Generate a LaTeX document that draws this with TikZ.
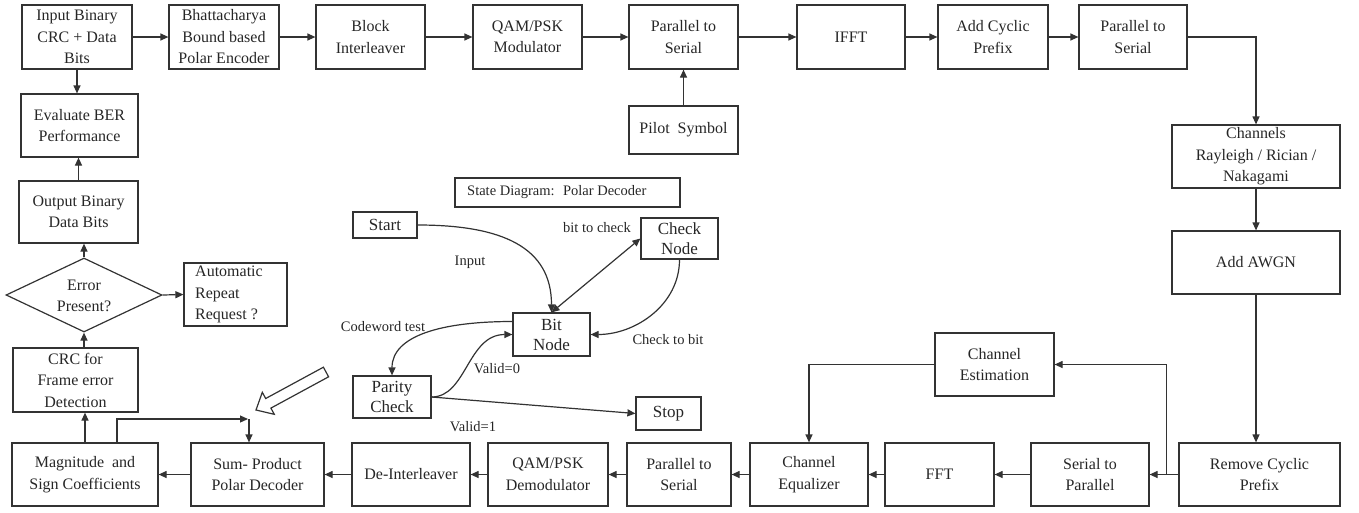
\documentclass[tikz,border=0pt]{standalone}
\usepackage{fontspec}
\setmainfont{Liberation Serif}
\newfontfamily\tnrfont{Liberation Serif}
\usetikzlibrary{arrows.meta,shapes.geometric}
\definecolor{lc}{HTML}{333333}
\definecolor{tc}{HTML}{262626}
\newcommand{\mainfs}{\tnrfont\fontsize{16}{21.5}\selectfont}
\newcommand{\lblfs}{\tnrfont\fontsize{14.5}{17}\selectfont}
\newcommand{\stfs}{\tnrfont\fontsize{17}{20}\selectfont}
\begin{document}
\begin{tikzpicture}[x=1pt,y=-1pt,
  box/.style={draw=lc, line width=1.2pt, inner sep=0pt, align=center, font=\mainfs, text=tc},
  sbox/.style={box, font=\stfs},
  arr/.style={draw=lc, line width=1.2pt, -{Triangle[length=8pt,width=7pt]}},
  darr/.style={draw=lc, line width=1.2pt, {Triangle[length=8pt,width=7pt]}-{Triangle[length=8pt,width=7pt]}},
  lbl/.style={font=\lblfs, text=tc, inner sep=0pt},
  txt/.style={font=\mainfs, text=tc, inner sep=0pt, align=center}]
\useasboundingbox (0,0) rectangle (1359,512);

% top row
\node[box,minimum width=110pt,minimum height=64pt] (inp) at (77,37) {Input Binary\\CRC + Data\\Bits};
\node[box,minimum width=110pt,minimum height=64pt] (bhat) at (224,37) {Bhattacharya\\Bound based\\Polar Encoder};
\node[box,minimum width=109pt,minimum height=64pt] (blk) at (370.5,37) {Block\\Interleaver};
\node[box,minimum width=109pt,minimum height=64pt] (qam) at (527.5,37) {QAM/PSK\\Modulator};
\node[box,minimum width=109pt,minimum height=64pt] (p2s) at (683.5,37) {Parallel to\\Serial};
\node[box,minimum width=108pt,minimum height=64pt] (ifft) at (851,37) {IFFT};
\node[box,minimum width=110pt,minimum height=64pt] (acp) at (993,37) {Add Cyclic\\Prefix};
\node[box,minimum width=108pt,minimum height=64pt] (p2s2) at (1133,37) {Parallel to\\Serial};
\node[box,minimum width=109pt,minimum height=48pt] (pilot) at (683.5,130) {Pilot~ Symbol};

% right column
\node[box,minimum width=168pt,minimum height=63pt] (chan) at (1256,156.5) {Channels\\Rayleigh / Rician /\\Nakagami};
\node[box,minimum width=168pt,minimum height=63pt] (awgn) at (1256,262.5) {Add AWGN};

% bottom row
\node[box,minimum width=161pt,minimum height=63pt] (rcp) at (1259.5,474.5) {Remove Cyclic\\Prefix};
\node[box,minimum width=118pt,minimum height=63pt] (s2p) at (1090,474.5) {Serial to\\Parallel};
\node[box,minimum width=109pt,minimum height=63pt] (fft) at (939.5,474.5) {FFT};
\node[box,minimum width=119pt,minimum height=63pt] (chest) at (994.5,364.5) {Channel\\Estimation};
\node[box,minimum width=118pt,minimum height=63pt] (equ) at (809,474.5) {Channel\\Equalizer};
\node[box,minimum width=104pt,minimum height=63pt] (p2sb) at (679,474.5) {Parallel to\\Serial};
\node[box,minimum width=120pt,minimum height=63pt] (qamd) at (548,474.5) {QAM/PSK\\Demodulator};
\node[box,minimum width=118pt,minimum height=63pt] (deint) at (411,474.5) {De-Interleaver};
\node[box,minimum width=133pt,minimum height=63pt] (spd) at (257.5,474.5) {Sum- Product\\Polar Decoder};
\node[box,minimum width=146pt,minimum height=63pt] (mag) at (85,474.5) {Magnitude~ and\\Sign Coefficients};

% left column
\node[box,minimum width=125pt,minimum height=64pt] (crc) at (75.5,380) {CRC for\\Frame error\\Detection};
\node[draw=lc,line width=1.2pt,diamond,minimum width=156pt,minimum height=74pt,inner sep=0pt] (dia) at (84,295) {};
\node[txt] (diat) at (84,296) {Error\\Present?};
\node[box,minimum width=103pt,minimum height=63pt] (arq) at (235.5,294.5) {};
\node[txt,anchor=west,align=left] (arqt) at (195,294.5) {Automatic\\Repeat\\Request ?};
\node[box,minimum width=119pt,minimum height=62pt] (out) at (78.5,212) {Output Binary\\Data Bits};
\node[box,minimum width=117pt,minimum height=63pt] (eval) at (79.5,125.5) {Evaluate BER\\Performance};

% state diagram
\node[box,minimum width=225pt,minimum height=29pt] (sdt) at (567.5,192.5) {};
\node[lbl,anchor=west] (sdtt) at (467,192.5) {State Diagram:~ Polar Decoder};
\node[sbox,minimum width=64pt,minimum height=26pt] (start) at (385,225) {Start};
\node[sbox,minimum width=77pt,minimum height=41pt] (chk) at (679.5,238.5) {Check\\Node};
\node[sbox,minimum width=77pt,minimum height=43pt] (bit) at (551.5,334.5) {Bit\\Node};
\node[sbox,minimum width=78pt,minimum height=42pt] (par) at (392,397) {Parity\\Check};
\node[sbox,minimum width=65pt,minimum height=33pt] (stop) at (668.5,413.5) {Stop};

\node[lbl] (l1) at (597,228) {bit to check};
\node[lbl] (l2) at (470,262) {Input};
\node[lbl] (l3) at (383,327) {Codeword test};
\node[lbl] (l4) at (668,340) {Check to bit};
\node[lbl] (l5) at (497,369) {Valid=0};
\node[lbl] (l6) at (473,427) {Valid=1};

% top row connectors
\draw[arr] (inp.east) -- (bhat.west);
\draw[arr] (bhat.east) -- (blk.west);
\draw[arr] (blk.east) -- (qam.west);
\draw[arr] (qam.east) -- (p2s.west);
\draw[arr] (p2s.east) -- (ifft.west);
\draw[arr] (ifft.east) -- (acp.west);
\draw[arr] (acp.east) -- (p2s2.west);
\draw[arr] (pilot.north) -- (p2s.south);
\draw[arr] (p2s2.east) -| (chan.north);
\draw[arr] (chan.south) -- (awgn.north);
\draw[arr] (awgn.south) -- (awgn.south |- rcp.north);

% bottom row connectors
\draw[arr] (rcp.west) -- (s2p.east);
\draw[arr] (rcp.west) ++(-12,0) |- (chest.east);
\draw[arr] (chest.west) -| (equ.north);
\draw[arr] (s2p.west) -- (fft.east);
\draw[arr] (fft.west) -- (equ.east);
\draw[arr] (equ.west) -- (p2sb.east);
\draw[arr] (p2sb.west) -- (qamd.east);
\draw[arr] (qamd.west) -- (deint.east);
\draw[arr] (deint.west) -- (spd.east);
\draw[arr] (spd.west) -- (mag.east);
\coordinate (fb1) at (117,419);
\coordinate (fb2) at (248,419);
\coordinate (fb3) at (249,419);
\draw[arr] (mag.north -| fb1) -- (fb1) -- (fb2);
\draw[arr] (fb3) -- (spd.north -| fb3);

% left column connectors
\draw[arr] (mag.north) -- (mag.north |- crc.south);
\draw[arr] (dia.south |- crc.north) -- (dia.south);
\draw[arr] (dia.north) -- (dia.north |- out.south);
\draw[arr] (dia.east) -- (arq.west);
\draw[arr] (out.north) -- (out.north |- eval.south);
\draw[arr] (inp.south) -- (inp.south |- eval.north);

% state diagram connectors
\draw[arr] (start.east) .. controls +(85,0) and +(0,-65) .. (bit.north);
\draw[darr] (bit.north) -- (chk.west);
\draw[arr] (chk.south) .. controls +(0,45) and +(45,0) .. (bit.east);
\draw[arr] (bit.west) ++(0,-13) .. controls +(-70,0) and +(0,-40) .. (par.north);
\draw[arr] (par.east) .. controls +(35,0) and +(-45,0) .. (bit.west);
\draw[arr] (par.east) -- (stop.west);

% hollow pointer arrow
\draw[draw=lc, line width=1.2pt, line join=miter]
  (323.4,367.2) -- (265.7,398.5) -- (262.3,392.3) -- (256,410) -- (274.3,414.3)
  -- (270.9,408.1) -- (328.6,376.8) -- cycle;
\end{tikzpicture}
\end{document}
